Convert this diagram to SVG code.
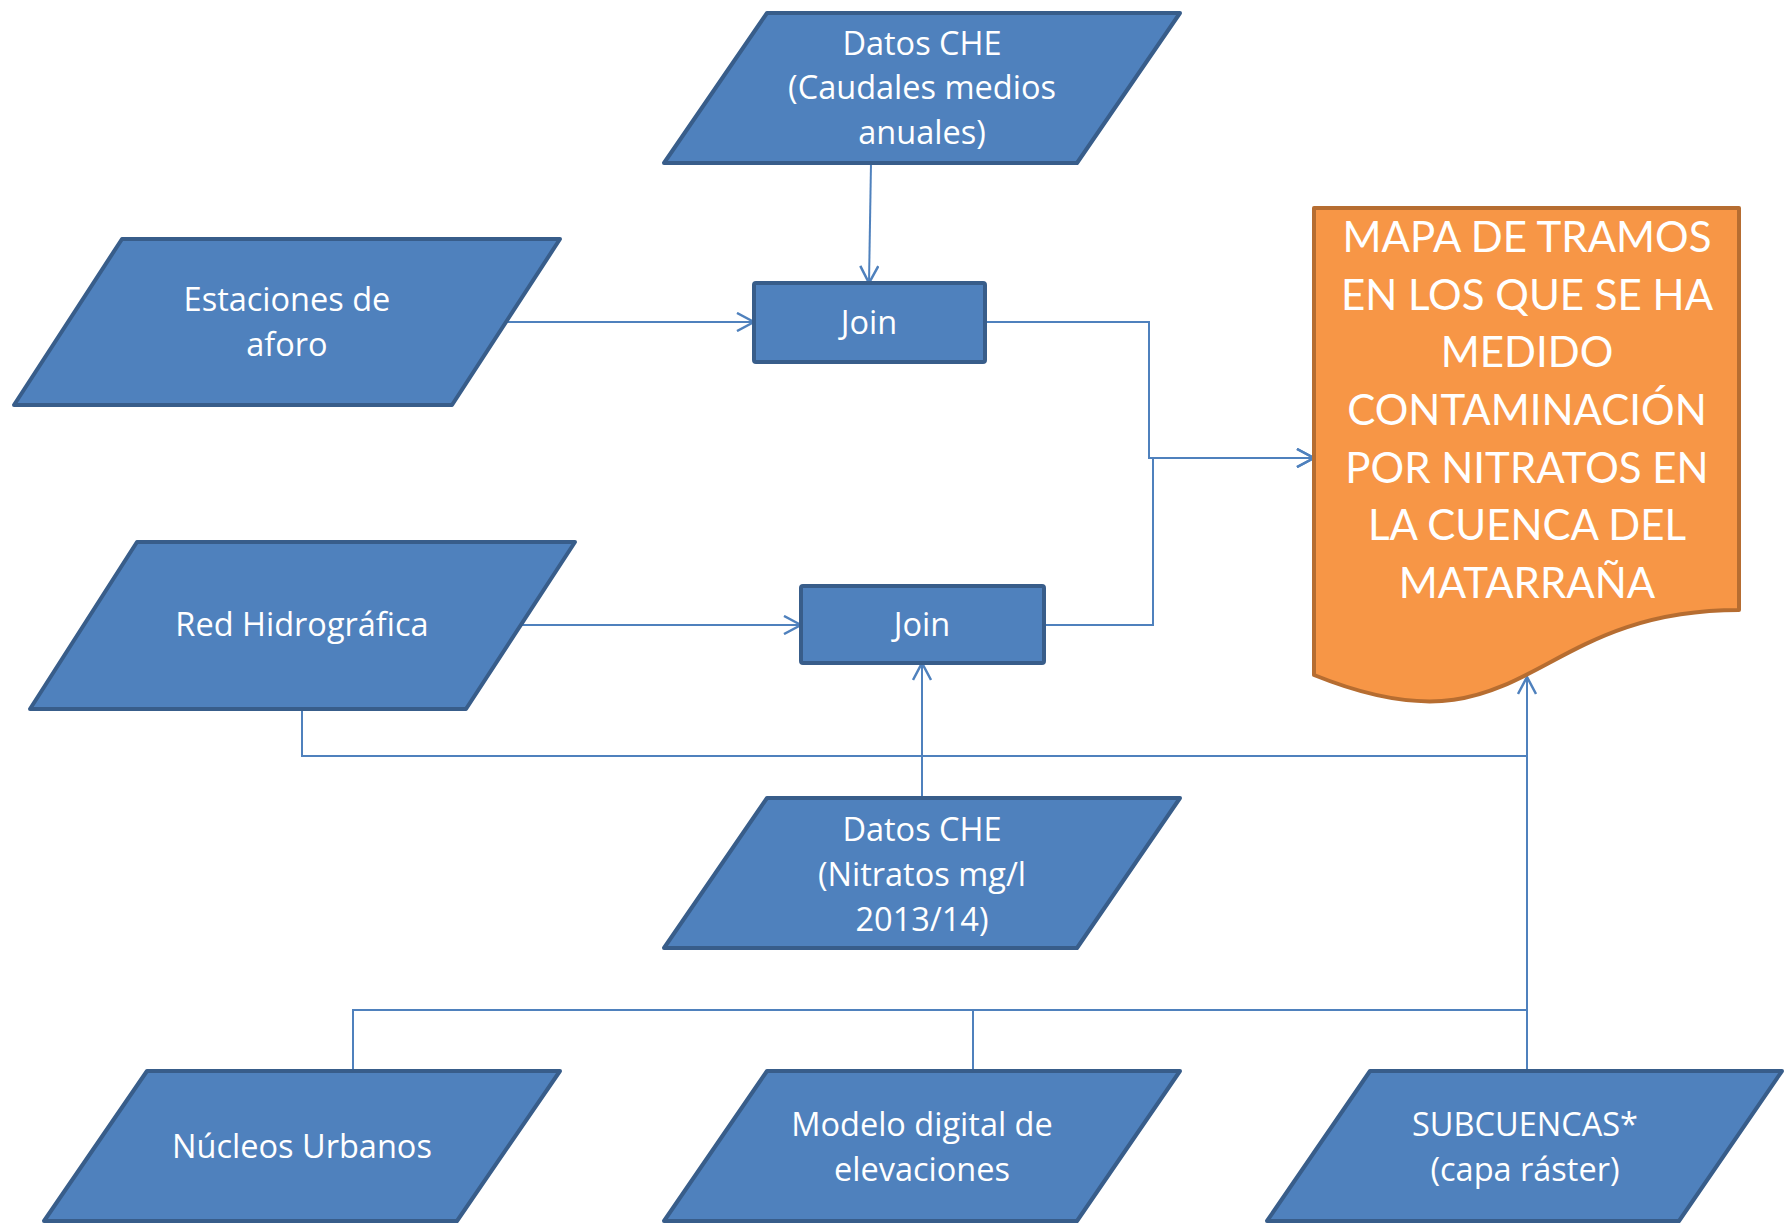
<svg xmlns="http://www.w3.org/2000/svg" width="1784" height="1224" viewBox="0 0 1784 1224">
<defs>
<style>
.n{fill:#4F81BD;stroke:#385D8A;stroke-width:4;stroke-linejoin:round}
.o{fill:#F79646;stroke:#B66D31;stroke-width:4;stroke-linejoin:round}
.t{fill:#FFFFFF;font-family:"Open Sans",Lato,"Liberation Sans",sans-serif;font-size:32.5px;text-anchor:middle}
.to{fill:#FFFFFF;font-family:Lato,"Open Sans","Liberation Sans",sans-serif;font-size:42px;text-anchor:middle}
.c{fill:none;stroke:#4F81BD;stroke-width:2}
.ca{fill:none;stroke:#4F81BD;stroke-width:2;marker-end:url(#ah)}
</style>
<marker id="ah" viewBox="0 0 20 20" refX="18" refY="10" markerWidth="20" markerHeight="20" markerUnits="userSpaceOnUse" orient="auto">
<path d="M1,1 L18,10 L1,19" fill="none" stroke="#4F81BD" stroke-width="2.5"/>
</marker>
</defs>
<rect width="1784" height="1224" fill="#FFFFFF"/>
<g id="connectors">
<path class="ca" d="M871,163 L869,283"/>
<path class="ca" d="M506,322 L754,322"/>
<path class="ca" d="M985,322 H1149 V458 H1314"/>
<path class="ca" d="M1044,625 H1153 V458 H1314"/>
<path class="ca" d="M521,625 L801,625"/>
<path class="ca" d="M922,798 L922,663"/>
<path class="c" d="M302,709 V756 H1527"/>
<path class="c" d="M353,1071 V1010 H1527"/>
<path class="c" d="M973,1071 V1010"/>
<path class="ca" d="M1527,1071 V677"/>
</g>
<g id="datos-caudales">
<polygon class="n" points="767,13 1180,13 1077,163 664,163"/>
<text class="t" x="922" y="55">Datos CHE</text>
<text class="t" x="922" y="99">(Caudales medios</text>
<text class="t" x="922" y="144">anuales)</text>
</g>
<g id="estaciones">
<polygon class="n" points="122,239 560,239 452,405 14,405"/>
<text class="t" x="287" y="311">Estaciones de</text>
<text class="t" x="287" y="356">aforo</text>
</g>
<g id="join1">
<rect class="n" x="754" y="283" width="231" height="79" rx="2"/>
<text class="t" x="869" y="334">Join</text>
</g>
<g id="red-hidrografica">
<polygon class="n" points="137,542 575,542 466,709 30,709"/>
<text class="t" x="302" y="636">Red Hidrográfica</text>
</g>
<g id="join2">
<rect class="n" x="801" y="586" width="243" height="77" rx="2"/>
<text class="t" x="922" y="636">Join</text>
</g>
<g id="datos-nitratos">
<polygon class="n" points="767,798 1180,798 1077,948 664,948"/>
<text class="t" x="922" y="841">Datos CHE</text>
<text class="t" x="922" y="886">(Nitratos mg/l</text>
<text class="t" x="922" y="931">2013/14)</text>
</g>
<g id="mapa">
<path class="o" d="M1314,208 H1739 V610 C1526.5,610 1526.5,761 1314,675 Z"/>
<text class="to" x="1527" y="252">MAPA DE TRAMOS</text>
<text class="to" x="1527" y="310">EN LOS QUE SE HA</text>
<text class="to" x="1527" y="367">MEDIDO</text>
<text class="to" x="1527" y="425">CONTAMINACIÓN</text>
<text class="to" x="1527" y="483">POR NITRATOS EN</text>
<text class="to" x="1527" y="540">LA CUENCA DEL</text>
<text class="to" x="1527" y="598">MATARRAÑA</text>
</g>
<g id="nucleos">
<polygon class="n" points="147,1071 560,1071 457,1221 44,1221"/>
<text class="t" x="302" y="1158">Núcleos Urbanos</text>
</g>
<g id="modelo">
<polygon class="n" points="767,1071 1180,1071 1077,1221 664,1221"/>
<text class="t" x="922" y="1136">Modelo digital de</text>
<text class="t" x="922" y="1181">elevaciones</text>
</g>
<g id="subcuencas">
<polygon class="n" points="1370,1071 1782,1071 1679,1221 1267,1221"/>
<text class="t" x="1525" y="1136">SUBCUENCAS*</text>
<text class="t" x="1525" y="1181">(capa ráster)</text>
</g>
</svg>
